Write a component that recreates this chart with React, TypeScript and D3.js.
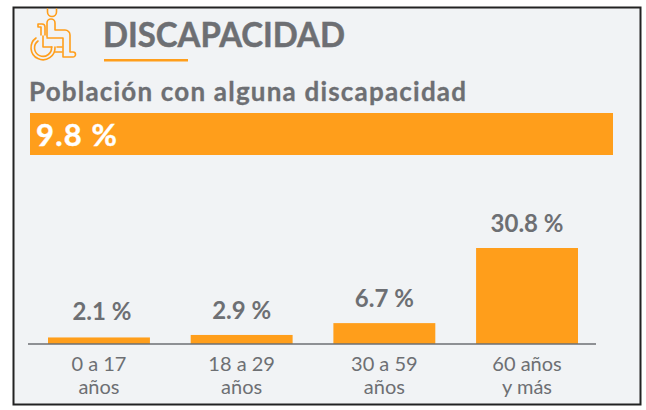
import React from 'react';
import * as d3 from 'd3';

const TITLE = 'DISCAPACIDAD';
const SUBTITLE = 'Población con alguna discapacidad';
const TOTAL_LABEL = '9.8 %';
const categories = ['0 a 17', '18 a 29', '30 a 59', '60 años'];
const categoryLines2 = ['años', 'años', 'años', 'y más'];
const values = [2.1, 2.9, 6.7, 30.8];
const valueLabels = ['2.1 %', '2.9 %', '6.7 %', '30.8 %'];

const ORANGE = '#ff9e1b';
const GREY = '#6d6f73';
const FONT = 'Lato, sans-serif';
const BASE_Y = 344;

export default function App() {
  const x = d3.scaleBand<string>()
    .domain(categories)
    .range([48, 578])
    .paddingInner(0.2857)
    .paddingOuter(0);
  const y = d3.scaleLinear().domain([0, 30.8]).range([BASE_Y, 248]);

  return (
    <svg
      width={646}
      height={410}
      style={{ position: 'absolute', left: 0, top: 0, background: '#fff', fontFamily: FONT }}
    >
      <rect x={13.5} y={7.5} width={627} height={397} fill="#f1f3f5" stroke="#222" strokeWidth={2} />

      {/* wheelchair icon */}
      <g fill="none" stroke={ORANGE} strokeWidth={1.6} strokeLinejoin="round" strokeLinecap="round">
        <path d="M47.5 9 v3 a4.5 4.5 0 0 0 9 0 v-3" />
        <path d="M47 37 V23 a4 4 0 0 1 8 0 V30 h10 a5 5 0 0 1 5 5 V52 h3 a2.5 2.5 0 0 1 0 5 H63 V38 H47" />
        <path d="M38 24 h4 a3 3 0 0 1 3 3 V35 M38 24 v3 h3 V35" />
        <path d="M36 38 A12 12 0 1 0 55 47" />
        <path d="M38 41 A8.5 8.5 0 1 0 51.5 47" />
        <path d="M43 36 V47 H52" />
        <path d="M55 52 H62 M57 47 H62" />
      </g>

      <text x={103} y={47} fontSize={34} fontWeight={700} stroke={GREY} strokeWidth={0.5} fill={GREY} textLength={242} lengthAdjust="spacingAndGlyphs">{TITLE}</text>
      <rect x={104} y={59} width={84} height={2.5} fill={ORANGE} />

      <text x={29} y={101} fontSize={26} fontWeight={700} stroke={GREY} strokeWidth={0.3} fill={GREY} textLength={437} lengthAdjust="spacing">{SUBTITLE}</text>

      <rect x={30} y={113} width={583} height={42} fill={ORANGE} />
      <text x={36} y={146} fontSize={31} fontWeight={700} fill="#fff" stroke="#fff" strokeWidth={0.4} textLength={81} lengthAdjust="spacing">{TOTAL_LABEL}</text>

      {categories.map((c, i) => (
        <g key={c}>
          <rect x={x(c)} y={y(values[i])} width={x.bandwidth()} height={BASE_Y - y(values[i])} fill={ORANGE} />
          <text
            x={x(c)! + x.bandwidth() / 2 + (i === 0 ? 3 : 0)}
            y={Math.min(y(values[i]) - 16, 319.5)}
            textAnchor="middle"
            fontSize={24}
            fontWeight={700}
            fill={GREY}
          >
            {valueLabels[i]}
          </text>
          <text x={x(c)! + x.bandwidth() / 2} y={371} textAnchor="middle" fontSize={20} fill={GREY}>{c}</text>
          <text x={x(c)! + x.bandwidth() / 2} y={394} textAnchor="middle" fontSize={20} fill={GREY}>{categoryLines2[i]}</text>
        </g>
      ))}
      <line x1={28} x2={596} y1={BASE_Y} y2={BASE_Y} stroke={GREY} strokeWidth={1.5} />
    </svg>
  );
}
